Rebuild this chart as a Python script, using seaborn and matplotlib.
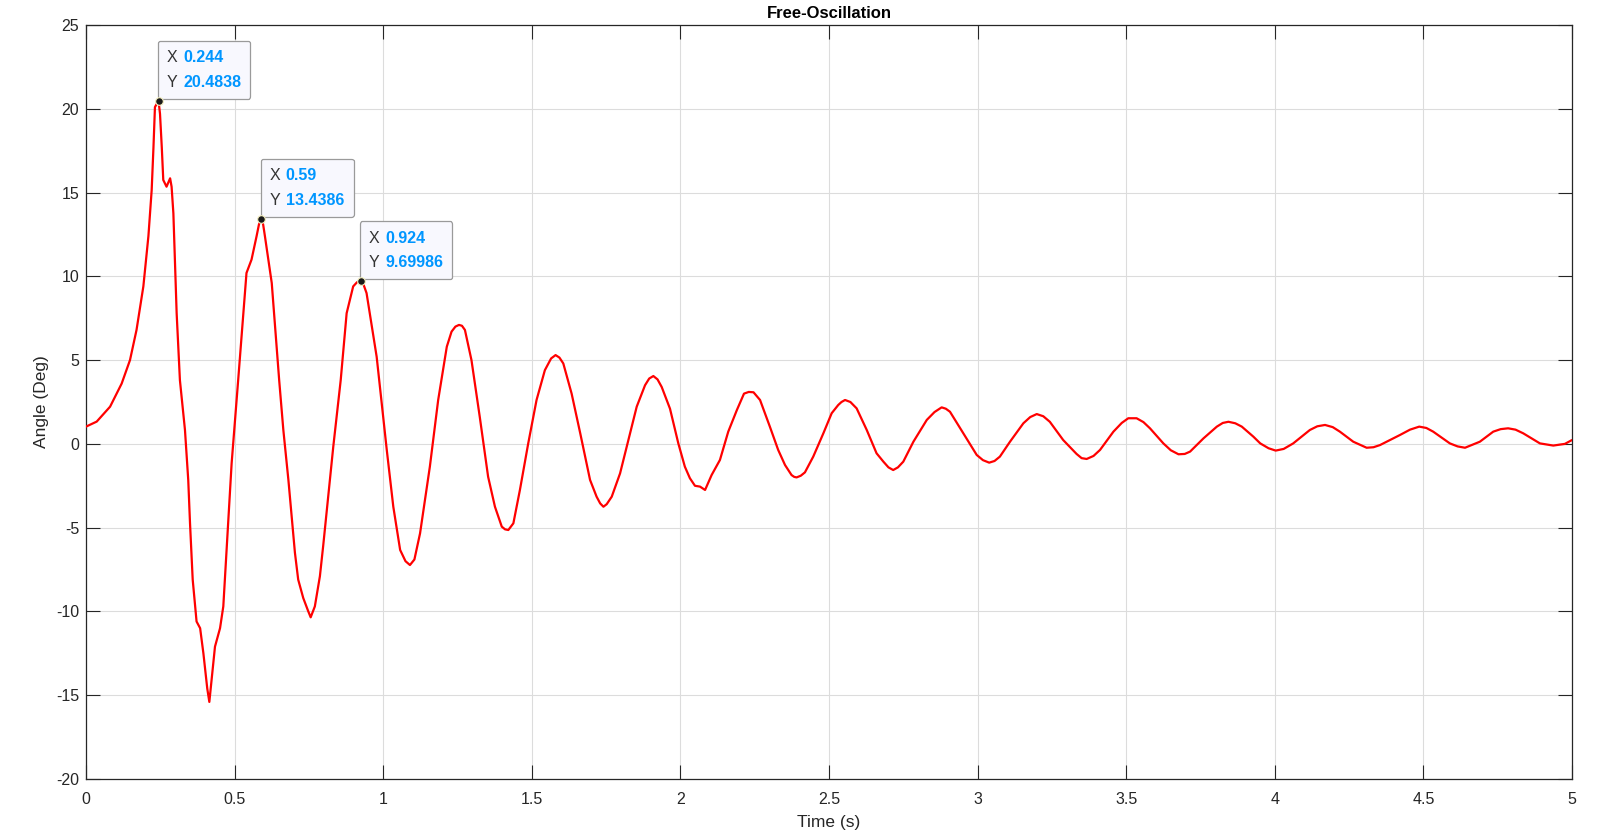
import matplotlib
matplotlib.use("Agg")
import matplotlib.pyplot as plt
import seaborn as sns
import pandas as pd
from matplotlib.offsetbox import TextArea, HPacker, VPacker, AnnotationBbox

# ---- data ----
time_s = [0.000, 0.036, 0.081, 0.120, 0.148, 0.170, 0.193, 0.210, 0.221, 0.227,
          0.232, 0.244, 0.249, 0.255, 0.260, 0.271, 0.283, 0.288, 0.294, 0.305,
          0.316, 0.333, 0.344, 0.350, 0.359, 0.372, 0.384, 0.395, 0.408, 0.415,
          0.422, 0.434, 0.451, 0.462, 0.479, 0.490, 0.512, 0.540, 0.557, 0.574,
          0.582, 0.590, 0.596, 0.602, 0.625, 0.650, 0.664, 0.681, 0.687, 0.703,
          0.714, 0.731, 0.748, 0.756, 0.770, 0.787, 0.798, 0.815, 0.832, 0.857,
          0.877, 0.899, 0.912, 0.924, 0.934, 0.944, 0.978, 1.012, 1.034, 1.057,
          1.075, 1.090, 1.105, 1.124, 1.157, 1.185, 1.214, 1.230, 1.243, 1.255,
          1.265, 1.275, 1.297, 1.325, 1.353, 1.376, 1.399, 1.410, 1.421, 1.438,
          1.460, 1.488, 1.516, 1.544, 1.565, 1.580, 1.593, 1.606, 1.634, 1.663,
          1.696, 1.718, 1.730, 1.741, 1.752, 1.769, 1.797, 1.825, 1.853, 1.881,
          1.895, 1.909, 1.923, 1.937, 1.965, 1.993, 2.015, 2.032, 2.049, 2.066,
          2.083, 2.105, 2.133, 2.161, 2.190, 2.214, 2.230, 2.246, 2.268, 2.301,
          2.329, 2.352, 2.374, 2.383, 2.391, 2.405, 2.419, 2.447, 2.481, 2.509,
          2.531, 2.542, 2.554, 2.572, 2.593, 2.627, 2.660, 2.683, 2.700, 2.716,
          2.732, 2.750, 2.784, 2.829, 2.855, 2.879, 2.893, 2.907, 2.952, 2.997,
          3.018, 3.039, 3.057, 3.075, 3.109, 3.154, 3.177, 3.199, 3.221, 3.243,
          3.288, 3.333, 3.350, 3.367, 3.390, 3.412, 3.457, 3.485, 3.507, 3.535,
          3.558, 3.580, 3.625, 3.650, 3.676, 3.697, 3.715, 3.760, 3.805, 3.825,
          3.844, 3.867, 3.889, 3.928, 3.951, 3.979, 4.003, 4.030, 4.062, 4.118,
          4.143, 4.169, 4.195, 4.219, 4.264, 4.309, 4.332, 4.354, 4.421, 4.455,
          4.486, 4.510, 4.533, 4.589, 4.615, 4.640, 4.690, 4.735, 4.760, 4.785,
          4.810, 4.836, 4.892, 4.937, 4.976, 5.000]
angle_deg = [1.03, 1.33, 2.22, 3.6, 5.0, 6.8, 9.4, 12.4, 15.15, 17.7,
             20.1, 20.4838, 19.7, 17.7, 15.75, 15.35, 15.85, 15.35, 13.76, 7.8,
             3.8, 0.83, -2.15, -4.74, -8.1, -10.6, -11.0, -12.5, -14.6, -15.4,
             -14.2, -12.1, -11.0, -9.7, -4.5, -1.16, 3.8, 10.2, 11.0, 12.4,
             13.1, 13.4386, 13.1, 12.4, 9.6, 3.8, 0.83, -2.15, -3.35, -6.5,
             -8.1, -9.2, -10.0, -10.35, -9.7, -7.9, -6.1, -3.15, -0.17, 3.8,
             7.8, 9.4, 9.65, 9.69986, 9.5, 9.0, 5.2, -0.36, -3.75, -6.33,
             -7.0, -7.23, -6.9, -5.34, -1.36, 2.62, 5.8, 6.7, 7.0, 7.1,
             7.05, 6.8, 5.0, 1.6, -1.96, -3.75, -4.94, -5.1, -5.14, -4.74,
             -2.75, 0.03, 2.62, 4.4, 5.1, 5.3, 5.15, 4.8, 3.0, 0.63,
             -2.15, -3.15, -3.55, -3.75, -3.6, -3.15, -1.76, 0.23, 2.22, 3.5,
             3.9, 4.05, 3.85, 3.4, 2.1, 0.03, -1.36, -2.05, -2.5, -2.55,
             -2.75, -1.86, -0.96, 0.73, 2.02, 3.0, 3.1, 3.08, 2.62, 1.03,
             -0.36, -1.26, -1.86, -1.97, -2.0, -1.9, -1.7, -0.76, 0.63, 1.83,
             2.32, 2.5, 2.62, 2.5, 2.12, 0.83, -0.56, -1.06, -1.4, -1.56,
             -1.4, -1.06, 0.13, 1.43, 1.9, 2.18, 2.1, 1.92, 0.63, -0.66,
             -0.97, -1.12, -1.02, -0.76, 0.13, 1.23, 1.6, 1.78, 1.65, 1.32,
             0.23, -0.6, -0.85, -0.9, -0.72, -0.36, 0.73, 1.25, 1.53, 1.53,
             1.3, 0.93, 0.03, -0.38, -0.62, -0.6, -0.46, 0.33, 1.03, 1.25,
             1.32, 1.23, 1.03, 0.43, 0.03, -0.26, -0.4, -0.3, 0.03, 0.83,
             1.05, 1.13, 1.0, 0.73, 0.13, -0.23, -0.2, -0.07, 0.53, 0.85,
             1.03, 0.95, 0.73, 0.03, -0.15, -0.23, 0.13, 0.73, 0.88, 0.93,
             0.85, 0.63, 0.03, -0.1, 0.0, 0.23]

tip_x = [0.244, 0.59, 0.924]
tip_y = [20.4838, 13.4386, 9.69986]
tip_x_labels = ["0.244", "0.59", "0.924"]
tip_y_labels = ["20.4838", "13.4386", "9.69986"]

x_ticks = [0, 0.5, 1, 1.5, 2, 2.5, 3, 3.5, 4, 4.5, 5]
x_tick_labels = ["0", "0.5", "1", "1.5", "2", "2.5", "3", "3.5", "4", "4.5", "5"]
y_ticks = [-20, -15, -10, -5, 0, 5, 10, 15, 20, 25]

title = "Free-Oscillation"
xlabel = "Time (s)"
ylabel = "Angle (Deg)"

# ---- style ----
sns.set_theme(style="white")
plt.rcParams['font.family'] = ['Liberation Sans', 'DejaVu Sans']
plt.rcParams['axes.unicode_minus'] = False
TXT = "#262626"
FAM = ['Liberation Sans', 'DejaVu Sans']

fig = plt.figure(figsize=(16.2, 8.38), dpi=100)
ax = fig.add_axes([86 / 1620, 1 - 779 / 838, (1572 - 86) / 1620, (779 - 25) / 838])

df = pd.DataFrame({"t": time_s, "a": angle_deg})
sns.lineplot(data=df, x="t", y="a", ax=ax, color="#ff0000", linewidth=1.6,
             sort=False, estimator=None, zorder=3)
for ln in ax.get_lines():
    ln.set_solid_joinstyle("round")
    ln.set_solid_capstyle("round")

ax.set_xlim(0, 5)
ax.set_ylim(-20, 25)
ax.set_xticks(x_ticks)
ax.set_xticklabels(x_tick_labels)
ax.set_yticks(y_ticks)
ax.grid(True, color="#dcdcdc", linewidth=0.8, zorder=0)
ax.set_axisbelow(True)
for s in ax.spines.values():
    s.set_visible(True)
    s.set_color(TXT)
    s.set_linewidth(0.9)
ax.tick_params(direction="in", length=10, width=0.8, color=TXT, labelcolor=TXT,
               labelsize=11.5, top=True, right=True, bottom=True, left=True,
               labeltop=False, labelright=False)
ax.tick_params(axis="x", pad=9)
ax.tick_params(axis="y", pad=5)
ax.set_xlabel(xlabel, fontsize=12.5, color=TXT, labelpad=6)
ax.set_ylabel(ylabel, fontsize=12.5, color=TXT, labelpad=5)
ax.set_title(title, fontsize=12, fontweight="bold", color="black", pad=5)

# ---- data tips ----
for x, y, xl, yl in zip(tip_x, tip_y, tip_x_labels, tip_y_labels):
    ax.plot([x], [y], marker="o", markersize=5.5, color="#1a1a1a",
            markeredgecolor="#f5f0c0", markeredgewidth=0.8, zorder=7)
    tp = dict(fontsize=11.5, color="#333333", family=FAM)
    vp = dict(fontsize=11.5, color="#0096ff", fontweight="bold", family=FAM)
    row1 = HPacker(children=[TextArea("X", textprops=tp), TextArea(xl, textprops=vp)],
                   sep=4, pad=0, align="baseline")
    row2 = HPacker(children=[TextArea("Y", textprops=tp), TextArea(yl, textprops=vp)],
                   sep=4, pad=0, align="baseline")
    box = VPacker(children=[row1, row2], sep=7, pad=0, align="left")
    ab = AnnotationBbox(box, (x, y), xycoords="data", xybox=(6, 8),
                        boxcoords="offset points", box_alignment=(0, 0),
                        frameon=True, pad=0.6,
                        bboxprops=dict(boxstyle="round,pad=0.6,rounding_size=0.15",
                                       fc="#f8f8fe", ec="#9a9a9a", lw=0.9))
    ab.set_zorder(6)
    ax.add_artist(ab)

fig.savefig("out.png", dpi=100)
